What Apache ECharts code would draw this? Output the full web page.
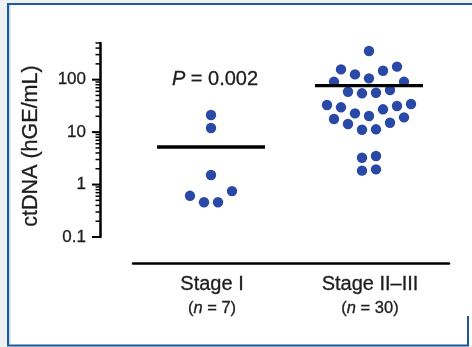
<!DOCTYPE html>
<html>
<head>
<meta charset="utf-8">
<script src="https://cdn.jsdelivr.net/npm/echarts@6/dist/echarts.min.js"></script>
<style>
html,body{margin:0;padding:0;background:#eef0f2;}
#chart{width:472px;height:347px;}
</style>
</head>
<body>
<div id="chart"></div>
<script>
// ---- data ----
const categories = ['Stage I', 'Stage II\u2013III'];
const groupSizes = [7, 30];
const stageI = [21.2, 12.0, 1.52, 0.61, 0.46, 0.46, 0.75];
const stageII = [352, 177, 157, 148, 126, 106, 91, 91, 63.5, 58.9, 56.4, 54.9,
  34.3, 32.9, 31.5, 29.7, 27.2, 22.8, 20.3, 19.1, 17.8, 15.1, 14.3, 11.3, 11.1,
  3.50, 3.25, 1.95, 1.84];
const medians = [5.2, 76.7];
const pText = '0.002';
const yTickValues = [0.1, 1, 10, 100];
const yTickLabels = ['0.1', '1', '10', '100'];
const yMinorTicks = [0.2,0.3,0.4,0.5,0.6,0.7,0.8,0.9, 2,3,4,5,6,7,8,9,
  20,30,40,50,60,70,80,90, 200,300,400,500];

// ---- swarm layout (rows by value, symmetric spread) ----
const ROW_SPAN = 0.24; // decades per row
function swarm(values, cat) {
  const pts = values.map(v => ({ v, L: Math.log10(v) })).sort((a, b) => b.L - a.L);
  const rows = [];
  let cur = null;
  pts.forEach(p => {
    if (!cur || cur.top - p.L > ROW_SPAN) { cur = { top: p.L, items: [] }; rows.push(cur); }
    cur.items.push(p);
  });
  const out = [];
  rows.forEach(r => {
    const items = r.items.slice().sort((a, b) => a.v - b.v);
    const n = items.length;
    items.forEach((p, i) => {
      let off;
      if (n % 2 === 1) { off = i === 0 ? 0 : (i % 2 === 1 ? -1 : 1) * Math.ceil(i / 2); }
      else { off = (i % 2 === 0 ? -1 : 1) * (Math.floor(i / 2) + 0.5); }
      out.push([cat, p.v, off]);
    });
  });
  return out;
}
const dotData = swarm(stageI, 0).concat(swarm(stageII, 1));
const tickData = yTickValues.map(v => [0, v, 1]).concat(yMinorTicks.map(v => [0, v, 0]));

const TXT = '#1e1c1d';
const FONT = 'Liberation Sans, Arial, sans-serif';
const BOLDEN = { textBorderColor: TXT, textBorderWidth: 0.3 };
const GBOLD = { stroke: TXT, lineWidth: 0.3 };
const Y_OFFSET = 33;
const DOT_STEP = 14;

const chart = echarts.init(document.getElementById('chart'));
chart.setOption({
  backgroundColor: '#eef0f2',
  animation: false,
  grid: { left: 133, top: 43, width: 316, height: 194 },
  xAxis: {
    type: 'category',
    data: categories,
    offset: 26,
    axisLine: { lineStyle: { color: '#000', width: 2.5 } },
    axisTick: { alignWithLabel: true, length: 5, lineStyle: { color: '#000', width: 2 } },
    axisLabel: {
      margin: 9,
      interval: 0,
      formatter: (v, i) => '{a|' + v + '}\n{b|(}{i|n}{b| = ' + groupSizes[i] + ')}',
      rich: {
        a: Object.assign({ fontSize: 20, lineHeight: 25, color: TXT, fontFamily: FONT }, BOLDEN),
        b: Object.assign({ fontSize: 16.5, lineHeight: 22, color: TXT, fontFamily: FONT }, BOLDEN),
        i: Object.assign({ fontSize: 16.5, lineHeight: 22, color: TXT, fontFamily: FONT, fontStyle: 'italic' }, BOLDEN)
      }
    },
    splitLine: { show: false }
  },
  yAxis: {
    type: 'log',
    logBase: 10,
    min: 0.1,
    max: 500,
    offset: Y_OFFSET,
    axisLine: { show: true, lineStyle: { color: '#000', width: 2.5 } },
    axisTick: { show: false },
    splitLine: { show: false },
    axisLabel: Object.assign({
      margin: 14,
      fontSize: 17,
      color: TXT,
      fontFamily: FONT,
      showMaxLabel: false,
      formatter: v => {
        for (let k = 0; k < yTickValues.length; k++) {
          if (Math.abs(Math.log10(v) - Math.log10(yTickValues[k])) < 1e-6) return yTickLabels[k];
        }
        return '';
      }
    }, BOLDEN)
  },
  graphic: [
    { type: 'rect', shape: { x: 8, y: 4, width: 464, height: 341 }, style: { fill: '#fff' }, z: -10 },
    { type: 'line', shape: { x1: 7, y1: 4, x2: 472, y2: 4 }, style: { stroke: '#1c5a9a', lineWidth: 2 }, z: -5 },
    { type: 'line', shape: { x1: 8, y1: 3, x2: 8, y2: 346 }, style: { stroke: '#1c5a9a', lineWidth: 2 }, z: -5 },
    { type: 'line', shape: { x1: 9.8, y1: 5, x2: 9.8, y2: 344 }, style: { stroke: '#a9c8e8', lineWidth: 1 }, z: -5 },
    { type: 'line', shape: { x1: 7, y1: 345.5, x2: 469, y2: 345.5 }, style: { stroke: '#1c5a9a', lineWidth: 2 }, z: -5 },
    { type: 'line', shape: { x1: 468, y1: 316, x2: 468, y2: 346 }, style: { stroke: '#1c5a9a', lineWidth: 2 }, z: -5 },
    {
      type: 'text', x: 31, y: 146, rotation: Math.PI / 2,
      style: Object.assign({ text: 'ctDNA (hGE/mL)', fontSize: 21.5, fontFamily: FONT, fill: TXT, align: 'center', verticalAlign: 'middle' }, GBOLD)
    },
    {
      type: 'text', x: 215, y: 79,
      style: {
        text: '{i|P}{r| = ' + pText + '}', align: 'center', verticalAlign: 'middle',
        rich: {
          i: Object.assign({ fontSize: 20, fontFamily: FONT, fill: TXT, fontStyle: 'italic' }, GBOLD),
          r: Object.assign({ fontSize: 20, fontFamily: FONT, fill: TXT }, GBOLD)
        }
      }
    }
  ],
  series: [
    {
      type: 'custom',
      name: 'yTicks',
      data: tickData,
      encode: { x: 0, y: 1 },
      clip: false,
      renderItem: (params, api) => {
        const p = api.coord([api.value(0), api.value(1)]);
        const ax = params.coordSys.x - Y_OFFSET;
        const major = api.value(2) === 1;
        return {
          type: 'line',
          shape: { x1: ax - (major ? 8 : 4.5), y1: p[1], x2: ax, y2: p[1] },
          style: { stroke: '#000', lineWidth: major ? 2 : 1.5 }
        };
      }
    },
    {
      type: 'custom',
      name: 'points',
      data: dotData,
      encode: { x: 0, y: 1 },
      renderItem: (params, api) => {
        const p = api.coord([api.value(0), api.value(1)]);
        return {
          type: 'circle',
          shape: { cx: p[0] - 1 + api.value(2) * DOT_STEP, cy: p[1], r: 5.2 },
          style: { fill: '#2a48a5' }
        };
      }
    },
    {
      type: 'custom',
      name: 'median',
      data: medians.map((m, i) => [i, m]),
      encode: { x: 0, y: 1 },
      z: 5,
      renderItem: (params, api) => {
        const p = api.coord([api.value(0), api.value(1)]);
        return {
          type: 'line',
          shape: { x1: p[0] - 55, y1: p[1], x2: p[0] + 53, y2: p[1] },
          style: { stroke: '#000', lineWidth: 3.3 }
        };
      }
    }
  ]
});
</script>
</body>
</html>
